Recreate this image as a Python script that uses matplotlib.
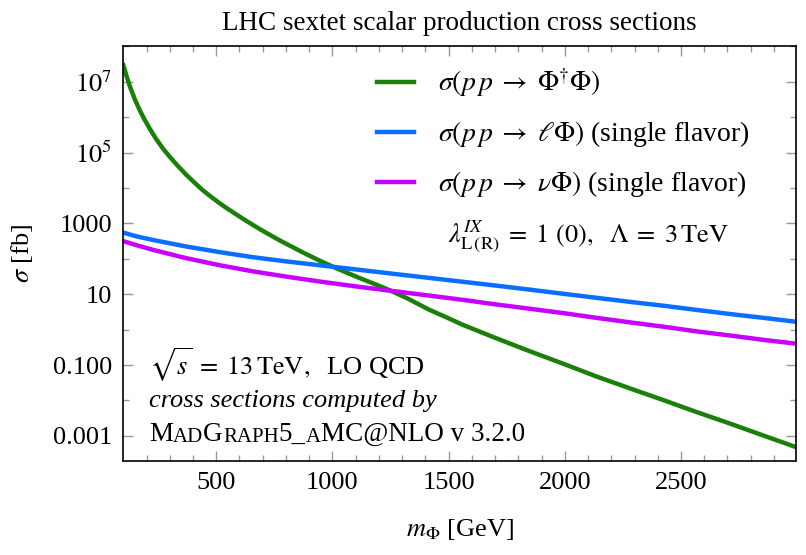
import numpy as np
import matplotlib
matplotlib.use('Agg')
import matplotlib.pyplot as plt
from matplotlib.ticker import FixedLocator, FixedFormatter, NullFormatter

plt.rcParams['font.family'] = ['Liberation Serif', 'DejaVu Serif']
plt.rcParams['mathtext.fontset'] = 'stix'

# masse du scalaire sextet [GeV] et sections efficaces [fb]
m_pair = [100, 115, 130, 150, 170, 190, 215, 240, 270, 300, 335, 370, 405, 440,
          480, 515, 550, 585, 620, 655, 690, 730, 765, 800, 870, 945, 1015, 1110,
          1230, 1320, 1415, 1490, 1560, 1700, 1850, 2000, 2135, 2280, 2420, 2560,
          2710, 2850, 3000]
sig_pair = [2.95e7, 1.38e7, 6.9e6, 3.16e6, 1.62e6, 8.9e5, 4.6e5, 2.5e5, 1.32e5,
            7.6e4, 4.2e4, 2.4e4, 1.45e4, 8.9e3, 5.5e3, 3.7e3, 2.57e3, 1.82e3,
            1.29e3, 933, 676, 479, 355, 269, 155, 89, 55, 30, 14.5, 7.8, 3.7,
            2.24, 1.38, 0.59, 0.245, 0.105, 0.048, 0.022, 0.0105, 0.0049,
            0.00224, 0.00105, 4.7e-4]

m_single = [100, 160, 230, 370, 515, 655, 800, 945, 1115, 1275, 1420, 1565, 1710,
            1850, 2000, 2140, 2290, 2430, 2570, 2715, 2860, 3000]
sig_lep = [550, 427, 339, 224, 155, 112, 85, 66, 49, 37, 28.8, 22.4, 17.4, 13.5,
           10.2, 7.9, 6.0, 4.7, 3.6, 2.75, 2.14, 1.66]
sig_nu = [316, 240, 178, 105, 66, 44.7, 31.6, 22.9, 16.2, 12.0, 9.1, 6.9, 5.1,
          3.9, 2.9, 2.14, 1.58, 1.2, 0.89, 0.68, 0.51, 0.40]

labels = [r'$\sigma(p\,p\;\rightarrow\;\Phi^{\dagger}\Phi)$',
          r'$\sigma(p\,p\;\rightarrow\;\ell\Phi)$ (single flavor)',
          r'$\sigma(p\,p\;\rightarrow\;\nu\Phi)$ (single flavor)']
colors = ['#1a800a', '#0a6eff', '#c800ff']

y_ticks = [1e7, 1e5, 1e3, 10, 0.1, 0.001]
y_ticklabels = [r'$10^7$', r'$10^5$', '1000', '10', '0.100', '0.001']
x_ticks = [500, 1000, 1500, 2000, 2500]

fig = plt.figure(figsize=(8.06, 5.55), dpi=100)
ax = fig.add_axes([0.153, 0.170, 0.8346, 0.7477])

ax.plot(m_pair, sig_pair, color=colors[0], lw=3.2, label=labels[0])
ax.plot(m_single, sig_lep, color=colors[1], lw=3.2, label=labels[1])
ax.plot(m_single, sig_nu, color=colors[2], lw=3.2, label=labels[2])

ax.set_yscale('log')
ax.set_xlim(100, 2995)
ax.set_ylim(2.0e-4, 1.05e8)

ax.xaxis.set_major_locator(FixedLocator(x_ticks))
ax.xaxis.set_minor_locator(FixedLocator([v for v in range(200, 3000, 100) if v % 500]))
ax.yaxis.set_major_locator(FixedLocator(y_ticks))
ax.yaxis.set_major_formatter(FixedFormatter(y_ticklabels))
ax.yaxis.set_minor_locator(FixedLocator([1e8, 1e6, 1e4, 100, 1, 0.01]))
ax.yaxis.set_minor_formatter(NullFormatter())

ax.tick_params(which='both', direction='in', top=True, right=True,
               color='#999999', labelsize=19, pad=8)
ax.tick_params(which='major', length=7, width=1)
ax.tick_params(which='minor', length=4, width=1)
for s in ax.spines.values():
    s.set_linewidth(1.2)

ax.set_title('LHC sextet scalar production cross sections', fontsize=19.5, pad=11)
ax.set_xlabel(r'$m_{\Phi}$ [GeV]', fontsize=19, labelpad=17)
ax.set_ylabel(r'$\sigma$ [fb]', fontsize=19, labelpad=13)

ax.legend(loc='upper left', bbox_to_anchor=(0.36, 0.977), frameon=False,
          fontsize=20, handlelength=1.35, handletextpad=0.85, labelspacing=0.72,
          borderaxespad=0)

ax.text(0.692, 0.540,
        r'$\lambda^{IX}_{\mathrm{L\,(R)}}\;=\;1\ (0),\ \ \Lambda\;=\;3\,\mathrm{TeV}$',
        transform=ax.transAxes, ha='center', va='center', fontsize=19)

ax.text(0.038, 0.230, r'$\sqrt{s}\;=\;13\,\mathrm{TeV},\ $ LO QCD',
        transform=ax.transAxes, ha='left', va='center', fontsize=19)
ax.text(0.038, 0.143, 'cross sections computed by', style='italic',
        transform=ax.transAxes, ha='left', va='center', fontsize=19)

# MadGraph5_aMC@NLO en petites capitales
pieces = [('M', 19.5), ('AD', 15), ('G', 19.5), ('RAPH', 15), ('5_', 19.5),
          ('A', 15), ('MC@NLO v 3.2.0', 19.5)]
prev = ax.text(0.038, 0.032, pieces[0][0], transform=ax.transAxes,
               ha='left', va='bottom', fontsize=pieces[0][1])
for txt, fs in pieces[1:]:
    prev = ax.annotate(txt, xy=(1, 0), xycoords=prev, ha='left', va='bottom',
                       fontsize=fs)

fig.savefig('out.png', dpi=100)
